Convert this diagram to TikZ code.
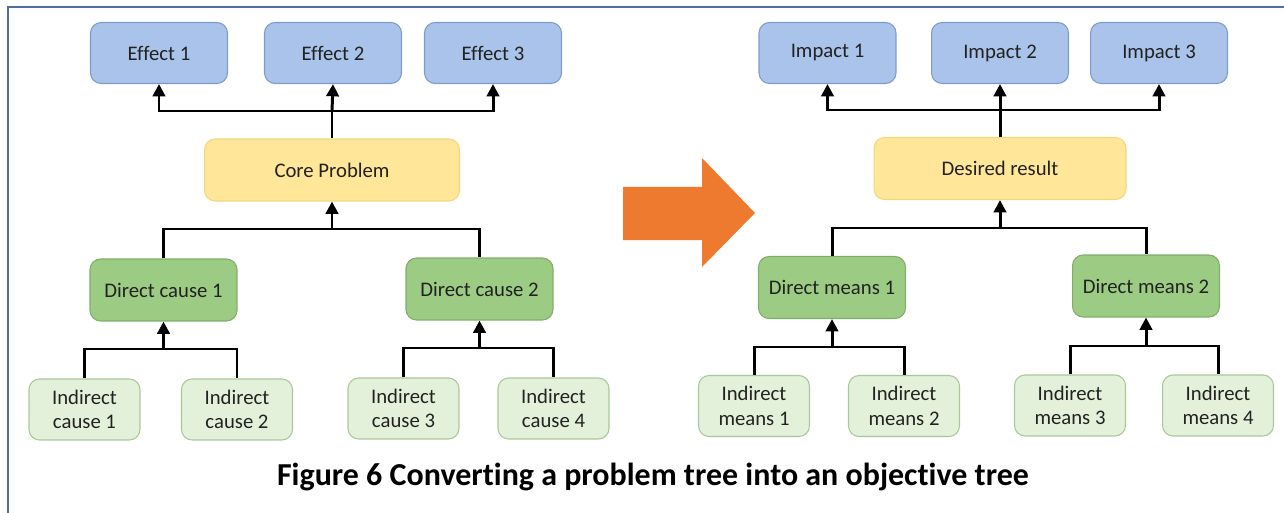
\documentclass[tikz,border=0pt]{standalone}
\usepackage{fontspec}
\setmainfont[Ligatures=NoCommon]{Carlito}
\usetikzlibrary{arrows.meta}
\definecolor{effill}{HTML}{A9C3EA}
\definecolor{efedge}{HTML}{7E9CCB}
\definecolor{corefill}{HTML}{FFE699}
\definecolor{coreedge}{HTML}{F5D77A}
\definecolor{dirfill}{HTML}{9CCB84}
\definecolor{diredge}{HTML}{7FAE68}
\definecolor{indfill}{HTML}{E3F1DA}
\definecolor{indedge}{HTML}{A9C79A}
\definecolor{convfill}{HTML}{EE7A30}
\definecolor{frameedge}{HTML}{4F6E9E}
\definecolor{txt}{HTML}{222222}

\begin{document}
\begin{tikzpicture}[x=0.02cm, y=-0.02cm,
  box/.style={rectangle, rounded corners=6pt, draw, line width=0.6pt, align=center,
              font=\fontsize{11.8}{14}\selectfont, text=txt, inner sep=0pt},
  eff/.style={box, draw=efedge, fill=effill, minimum width=2.74cm, minimum height=1.22cm},
  core/.style={box, draw=coreedge, fill=corefill, minimum height=1.24cm},
  dir/.style={box, draw=diredge, fill=dirfill, minimum width=2.94cm, minimum height=1.24cm},
  ind/.style={box, draw=indedge, fill=indfill, minimum width=2.22cm, minimum height=1.22cm},
  link/.style={draw=black, line width=1.7pt},
  arr/.style={link, -{Triangle[width=7pt, length=7pt]}},
]
\useasboundingbox (0,0) rectangle (1284,513);
% frame (top and left edges only)
\draw[frameedge, line width=0.8pt] (8,513) -- (8,7) -- (1284,7);
% problem tree
\node[eff] (e1) at (159,53) {Effect 1};
\node[eff] (e2) at (333,53) {Effect 2};
\node[eff] (e3) at (493,53) {Effect 3};
\node[core, minimum width=5.1cm] (cp) at (332,170) {Core Problem};
\node[dir] (dc1) at (163.5,290) {Direct cause 1};
\node[dir] (dc2) at (479.5,289) {Direct cause 2};
\node[ind] (ic1) at (84.5,409.5) {Indirect\\cause 1};
\node[ind] (ic2) at (237,409.5) {Indirect\\cause 2};
\node[ind] (ic3) at (403.5,408.5) {Indirect\\cause 3};
\node[ind] (ic4) at (553.5,408.5) {Indirect\\cause 4};
% objective tree
\node[eff] (i1) at (827.5,53) {Impact 1};
\node[eff] (i2) at (1000,53) {Impact 2};
\node[eff] (i3) at (1159,53) {Impact 3};
\node[core, minimum width=5.04cm] (dr) at (1000,168.5) {Desired result};
\node[dir] (dm1) at (832,287.5) {Direct means 1};
\node[dir] (dm2) at (1146,286) {Direct means 2};
\node[ind] (im1) at (754,406) {Indirect\\means 1};
\node[ind] (im2) at (904,406) {Indirect\\means 2};
\node[ind] (im3) at (1070,405.5) {Indirect\\means 3};
\node[ind] (im4) at (1218,405.5) {Indirect\\means 4};
% bus junctions
\coordinate (ebus) at (332,111);
\coordinate (cbus) at (332,229);
\coordinate (dbus1) at (163.5,349);
\coordinate (dbus2) at (479.5,348);
\coordinate (ibus) at (1000,110);
\coordinate (rbus) at (1000,228);
\coordinate (mbus1) at (832,347);
\coordinate (mbus2) at (1146,346);
% problem tree connectors
\draw[link] (cp.north) -- (ebus);
\draw[arr] (ebus) -| (e1.south);
\draw[arr] (ebus) -- (e2.south);
\draw[arr] (ebus) -| (e3.south);
\draw[link] (dc1.north) |- (cbus) -| (dc2.north);
\draw[arr] (cbus) -- (cp.south);
\draw[link] (ic1.north) |- (dbus1) -| (ic2.north);
\draw[arr] (dbus1) -- (dc1.south);
\draw[link] (ic3.north) |- (dbus2) -| (ic4.north);
\draw[arr] (dbus2) -- (dc2.south);
% objective tree connectors
\draw[link] (dr.north) -- (ibus);
\draw[arr] (ibus) -| (i1.south);
\draw[arr] (ibus) -- (i2.south);
\draw[arr] (ibus) -| (i3.south);
\draw[link] (dm1.north) |- (rbus) -| (dm2.north);
\draw[arr] (rbus) -- (dr.south);
\draw[link] (im1.north) |- (mbus1) -| (im2.north);
\draw[arr] (mbus1) -- (dm1.south);
\draw[link] (im3.north) |- (mbus2) -| (im4.north);
\draw[arr] (mbus2) -- (dm2.south);
% conversion arrow
\fill[convfill] (623,187) -- (702,187) -- (702,158) -- (755,213) -- (702,267)
  -- (702,240) -- (623,240) -- cycle;
% caption
\node[font=\fontsize{18.2}{21}\selectfont\bfseries, text=black] (cap) at (653,477)
  {Figure 6 Converting a problem tree into an objective tree};
\end{tikzpicture}
\end{document}
